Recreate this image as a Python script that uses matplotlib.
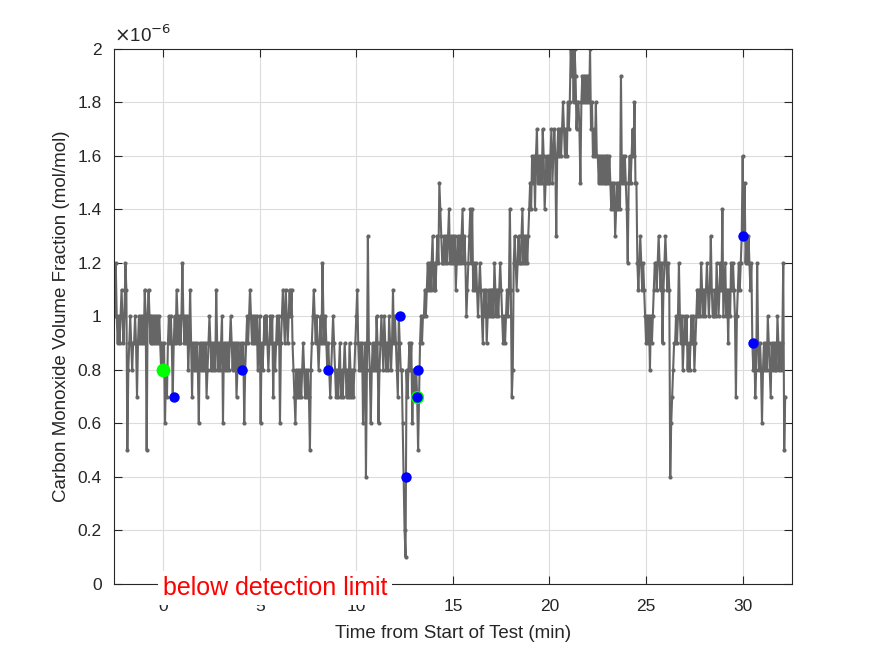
import numpy as np
import matplotlib.pyplot as plt
plt.switch_backend("agg")

plt.rcParams['font.family'] = ['Liberation Sans', 'DejaVu Sans']

# CO readings, one every 0.05 min from -2.5 min, in units of 1e-7 mol/mol
t_first = -2.5
t_step = 0.05
co_tenths = [
    10, 12, 10, 9, 10, 9, 10, 11, 10, 9, 10, 12, 11, 5, 8, 9, 10, 9, 8, 9,
    9, 10, 9, 7, 9, 10, 9, 10, 9, 10, 9, 11, 10, 5, 10, 11, 10, 9, 10, 9,
    10, 9, 10, 9, 10, 9, 10, 9, 8, 9, 8, 9, 6, 8, 7, 9, 10, 9, 10, 9,
    7, 9, 10, 9, 11, 10, 9, 10, 9, 10, 12, 10, 9, 10, 9, 10, 8, 9, 11, 9,
    7, 9, 8, 9, 8, 9, 8, 6, 9, 8, 9, 8, 9, 8, 9, 7, 8, 9, 10, 9,
    8, 9, 8, 9, 8, 11, 9, 8, 9, 8, 9, 10, 6, 9, 8, 9, 8, 9, 8, 9,
    10, 9, 8, 9, 8, 9, 7, 8, 9, 8, 8, 9, 8, 9, 6, 8, 9, 10, 9, 10,
    11, 10, 9, 10, 9, 10, 9, 10, 8, 9, 10, 6, 9, 8, 9, 10, 9, 10, 9, 8,
    9, 10, 9, 10, 7, 9, 8, 9, 10, 9, 10, 6, 9, 10, 11, 10, 9, 11, 10, 9,
    10, 11, 10, 11, 9, 8, 7, 6, 8, 7, 8, 7, 8, 7, 8, 9, 8, 7, 8, 7,
    8, 7, 5, 8, 9, 10, 11, 10, 9, 10, 9, 8, 9, 10, 9, 12, 10, 9, 10, 9,
    8, 9, 8, 7, 8, 9, 10, 9, 8, 7, 8, 7, 8, 9, 7, 8, 7, 8, 9, 8,
    7, 8, 7, 9, 8, 7, 8, 7, 8, 9, 10, 11, 9, 8, 9, 8, 9, 6, 8, 9,
    4, 8, 13, 9, 8, 6, 8, 9, 8, 9, 8, 10, 9, 6, 8, 9, 10, 9, 8, 10,
    9, 8, 9, 8, 10, 9, 8, 9, 11, 9, 10, 9, 8, 7, 10, 9, 8, 8, 6, 4,
    2, 1, 8, 7, 8, 9, 8, 9, 6, 8, 8, 7, 8, 7, 5, 7, 9, 10, 9, 10,
    10, 11, 10, 11, 12, 11, 12, 11, 12, 13, 11, 12, 11, 12, 13, 12, 15, 14, 13, 12,
    12, 13, 12, 13, 12, 13, 14, 12, 13, 12, 13, 12, 13, 11, 12, 13, 12, 13, 12, 13,
    14, 12, 13, 12, 10, 11, 12, 13, 14, 12, 14, 11, 12, 11, 12, 11, 10, 11, 12, 11,
    10, 9, 11, 10, 11, 9, 10, 11, 10, 11, 10, 11, 10, 12, 11, 10, 11, 10, 11, 12,
    11, 10, 9, 10, 9, 10, 11, 10, 11, 14, 11, 7, 8, 12, 13, 12, 11, 12, 13, 12,
    12, 13, 14, 12, 13, 12, 13, 12, 13, 14, 15, 14, 16, 15, 16, 14, 16, 17, 15, 16,
    15, 16, 15, 17, 16, 14, 15, 16, 15, 16, 15, 16, 17, 15, 16, 17, 16, 13, 16, 17,
    16, 17, 16, 17, 18, 17, 16, 17, 16, 18, 17, 18, 20, 19, 20, 18, 20, 19, 17, 18,
    18, 17, 15, 18, 19, 18, 19, 18, 19, 18, 19, 18, 20, 17, 18, 16, 17, 16, 18, 16,
    16, 15, 16, 15, 16, 15, 16, 15, 16, 15, 16, 15, 16, 15, 14, 15, 14, 15, 13, 14,
    15, 14, 15, 14, 19, 15, 16, 15, 16, 15, 14, 12, 15, 16, 15, 16, 17, 16, 18, 15,
    15, 12, 11, 12, 13, 12, 11, 12, 11, 10, 9, 10, 9, 10, 8, 10, 9, 10, 11, 12,
    12, 11, 12, 13, 12, 11, 12, 9, 11, 12, 13, 12, 11, 12, 11, 4, 6, 7, 8, 9,
    9, 10, 9, 10, 12, 10, 9, 10, 8, 9, 10, 9, 10, 8, 9, 8, 9, 10, 9, 10,
    8, 9, 10, 11, 10, 11, 10, 12, 11, 10, 11, 10, 11, 12, 11, 10, 11, 13, 11, 10,
    10, 11, 10, 12, 11, 10, 11, 12, 11, 14, 10, 11, 12, 10, 11, 9, 11, 10, 12, 11,
    12, 11, 10, 7, 10, 11, 12, 11, 12, 13, 16, 13, 15, 12, 13, 12, 13, 12, 11, 12,
    9, 8, 9, 7, 8, 12, 9, 8, 9, 8, 6, 8, 9, 8, 9, 8, 10, 9, 8, 7,
    9, 8, 9, 8, 9, 8, 10, 9, 8, 9, 8, 9, 12, 5, 7,
]

# sample points
blue_t = [0.57, 4.09, 8.54, 12.27, 12.58, 13.2, 13.15, 30.02, 30.54]
blue_co = [0.7, 0.8, 0.8, 1.0, 0.4, 0.8, 0.7, 1.3, 0.9]
green_t = [0.0, 13.15]
green_co = [0.8, 0.7]
green_size = [10, 9.5]

xticks = [0, 5, 10, 15, 20, 25, 30]
yticks = [0, 0.2, 0.4, 0.6, 0.8, 1.0, 1.2, 1.4, 1.6, 1.8, 2.0]
ytick_labels = ['0', '0.2', '0.4', '0.6', '0.8', '1', '1.2', '1.4', '1.6', '1.8', '2']

t = t_first + t_step * np.arange(len(co_tenths))
co = np.array(co_tenths) / 10.0

fig = plt.figure(figsize=(8.75, 6.56), dpi=100)
ax = fig.add_axes([0.1303, 0.1098, 0.775, 0.8155])
axc = '#262626'
grey = '#666666'

ax.plot(t, co, '-o', color=grey, lw=1.5, ms=3.0, mew=0, zorder=2)
for gt, gc, gs in zip(green_t, green_co, green_size):
    ax.plot(gt, gc, 'o', color='#00ff00', ms=gs, mew=0, zorder=3)
ax.plot(blue_t, blue_co, 'o', color='#0000ff', ms=7.5, mew=0, zorder=4)

ax.set_xlim(-2.54, 32.56)
ax.set_ylim(0, 2)
ax.set_xticks(xticks)
ax.set_yticks(yticks)
ax.set_yticklabels(ytick_labels)
ax.grid(True, color='#dcdcdc', lw=0.8)
ax.set_axisbelow(True)
ax.tick_params(direction='in', top=True, right=True, length=6, width=0.8,
               colors=axc, labelsize=12.5)
ax.tick_params(axis='x', pad=11)
ax.tick_params(axis='y', pad=9)
for s in ax.spines.values():
    s.set_color(axc)
    s.set_linewidth(0.8)

ax.set_xlabel('Time from Start of Test (min)', fontsize=13.5, color=axc, labelpad=8)
ax.set_ylabel('Carbon Monoxide Volume Fraction (mol/mol)', fontsize=13.5, color=axc, labelpad=5)
ax.text(0.0, 1.005, r'$\times$10$^{-6}$', transform=ax.transAxes, fontsize=13.5,
        color=axc, ha='left', va='bottom')

ax.text(5.8, -0.041, 'below detection limit', color='#ff0000', fontsize=18,
        ha='center', va='baseline', clip_on=False, zorder=10,
        bbox=dict(facecolor='white', edgecolor='none', pad=3.5))

fig.savefig('out.png', dpi=100, facecolor='white')
